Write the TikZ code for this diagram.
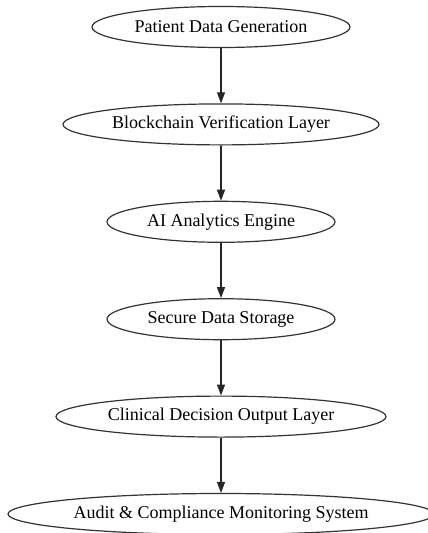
\documentclass[tikz,border=0pt]{standalone}
\usepackage{fontspec}
\setmainfont{Liberation Serif}
\usetikzlibrary{shapes.geometric,positioning,arrows.meta}

\begin{document}
\begin{tikzpicture}[x=1pt,y=1pt,node distance=97.4pt,on grid,
	stage/.style={ellipse,draw=black!80,line width=1.2pt,minimum height=41pt,inner sep=0pt,font=\fontsize{18}{21}\selectfont},
	flow/.style={-{Triangle[length=11pt,width=8pt]},line width=1.2pt,draw=black!85}]
	\useasboundingbox (0,0) rectangle (428,-533);
	\node[stage,minimum width=258pt] (gen) at (221,-27) {Patient Data Generation};
	\node[stage,minimum width=316pt,below=of gen] (chain) {Blockchain Verification Layer};
	\node[stage,minimum width=228pt,below=of chain] (ai) {AI Analytics Engine};
	\node[stage,minimum width=228pt,below=of ai] (store) {Secure Data Storage};
	\node[stage,minimum width=330pt,below=of store] (out) {Clinical Decision Output Layer};
	\node[stage,minimum width=426pt,below=of out] (audit) {Audit \& Compliance Monitoring System};
	\draw[flow] (gen) -- (chain);
	\draw[flow] (chain) -- (ai);
	\draw[flow] (ai) -- (store);
	\draw[flow] (store) -- (out);
	\draw[flow] (out) -- (audit);
\end{tikzpicture}
\end{document}
